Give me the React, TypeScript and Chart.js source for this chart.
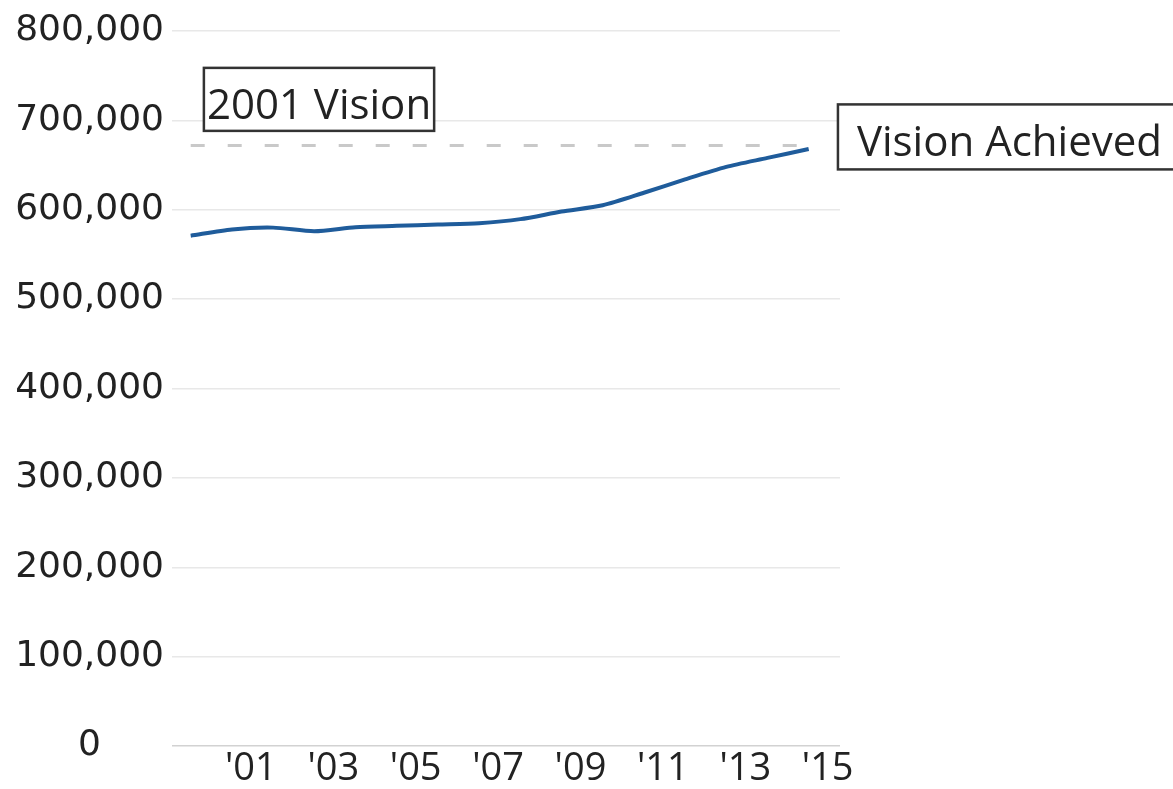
import { useEffect, useRef } from "react";
import { Chart, registerables } from "chart.js";

Chart.register(...registerables);

// ---- data ----
const years = [2000, 2001, 2002, 2003, 2004, 2005, 2006, 2007, 2008, 2009, 2010, 2011, 2012, 2013, 2014, 2015];
const values = [571000, 578000, 580000, 576000, 580500, 582000, 583500, 585000, 589500, 598000, 605000, 619000, 634000, 648000, 658000, 668000];
const visionYears = [2000, 2015.2];
const visionValue = 672000;
const tickYears = [2001, 2003, 2005, 2007, 2009, 2011, 2013, 2015];
const tickLabels = ["'01", "'03", "'05", "'07", "'09", "'11", "'13", "'15"];
const boxTexts = ["2001 Vision", "Vision Achieved"];

const boxLayout = [
  { x: 2000.32, y: 723500, h: 63, padX: 3 },
  { x: 2015.71, y: 681500, h: 65, padX: 19 },
];

const annotationPlugin = {
  id: "boxLabels",
  afterDraw(chart: any) {
    const { ctx, scales } = chart;
    const xs = scales.x;
    const ys = scales.y;
    ctx.save();
    const fontSize = 42;
    ctx.font = `${fontSize}px "Open Sans"`;
    boxTexts.forEach((text, i) => {
      const b = boxLayout[i];
      const left = xs.getPixelForValue(b.x);
      const cy = ys.getPixelForValue(b.y);
      const w = ctx.measureText(text).width + b.padX * 2;
      const top = cy - b.h / 2;
      ctx.fillStyle = "#ffffff";
      ctx.fillRect(left, top, w, b.h);
      ctx.strokeStyle = "#333333";
      ctx.lineWidth = 2.5;
      ctx.strokeRect(left, top, w, b.h);
      ctx.fillStyle = "#222222";
      ctx.textBaseline = "alphabetic";
      ctx.textAlign = "left";
      ctx.fillText(text, left + b.padX, cy + fontSize * 0.46);
    });
    ctx.restore();
  },
};

export default function App() {
  const ref = useRef<HTMLCanvasElement | null>(null);

  useEffect(() => {
    if (!ref.current) return;
    const chart = new Chart(ref.current, {
      type: "line",
      data: {
        datasets: [
          {
            data: years.map((yr, i) => ({ x: yr, y: values[i] })),
            borderColor: "#1f5c9b",
            borderWidth: 4,
            pointRadius: 0,
            tension: 0.25,
            fill: false,
            order: 1,
          },
          {
            data: visionYears.map((yr) => ({ x: yr, y: visionValue })),
            borderColor: "#c9c9c9",
            borderWidth: 3,
            borderDash: [14, 23],
            pointRadius: 0,
            fill: false,
            order: 2,
          },
        ],
      },
      options: {
        animation: false,
        responsive: false,
        maintainAspectRatio: false,
        layout: { padding: { top: 31, right: 333, left: 0, bottom: 0 } },
        plugins: {
          legend: { display: false },
          tooltip: { enabled: false },
        },
        scales: {
          x: {
            type: "linear",
            min: 1999.546,
            max: 2015.76,
            grid: { display: false, drawTicks: false },
            border: { display: false },
            afterBuildTicks: (scale: any) => {
              scale.ticks = tickYears.map((v) => ({ value: v }));
            },
            afterFit: (scale: any) => {
              scale.height = 43;
            },
            ticks: {
              autoSkip: false,
              maxRotation: 0,
              padding: 0,
              labelOffset: 19,
              color: "#222222",
              font: { family: '"Open Sans"', size: 38 },
              callback: (v: any) => {
                const idx = tickYears.indexOf(Number(v));
                return idx >= 0 ? tickLabels[idx] : "";
              },
            },
          },
          y: {
            min: 0,
            max: 800000,
            grid: {
              drawTicks: false,
              lineWidth: 1.5,
              color: (c: any) => (c.tick && c.tick.value === 0 ? "#d2d2d2" : "#e8e8e8"),
            },
            border: { display: false },
            afterFit: (scale: any) => {
              scale.width = 172;
            },
            ticks: {
              stepSize: 100000,
              padding: 8,
              crossAlign: "center",
              color: "#222222",
              font: { family: '"DejaVu Sans"', size: 36 },
              callback: (v: any) => Number(v).toLocaleString("en-US"),
            },
          },
        },
      },
      plugins: [annotationPlugin],
    });
    return () => chart.destroy();
  }, []);

  return (
    <div style={{ position: "absolute", left: 0, top: 0, width: 1173, height: 789, background: "#fff" }}>
      <canvas ref={ref} width={1173} height={789} style={{ display: "block" }} />
    </div>
  );
}
